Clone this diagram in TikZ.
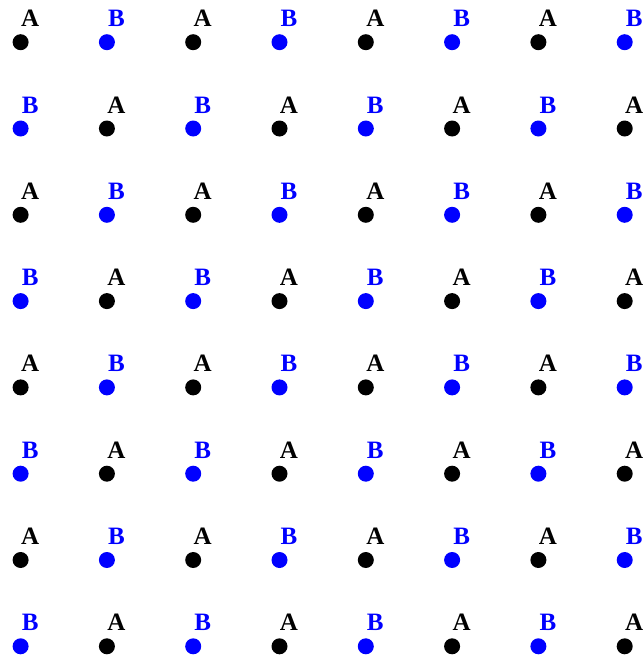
\documentclass[tikz,border=0pt]{standalone}
\usepackage{fontspec}
\setmainfont{Liberation Serif}
\definecolor{pblue}{RGB}{0,0,255}
\tikzset{
  dotA/.style={circle,fill=black,inner sep=0pt,minimum size=16pt},
  dotB/.style={circle,fill=pblue,inner sep=0pt,minimum size=16pt},
  labA/.style={anchor=base,inner sep=0pt,text=black,font=\fontsize{25pt}{25pt}\selectfont\bfseries},
  labB/.style={anchor=base,inner sep=0pt,text=pblue,font=\fontsize{25pt}{25pt}\selectfont\bfseries}
}
\begin{document}
\begin{tikzpicture}[x=1pt,y=-1pt]
\useasboundingbox (0,0) rectangle (644,656);
\foreach \i in {0,...,7}{
  \foreach \j in {0,...,7}{
    \pgfmathsetmacro{\px}{20.6+86.3*\i}
    \pgfmathsetmacro{\py}{42.2+86.3*\j}
    \pgfmathtruncatemacro{\parity}{mod(\i+\j,2)}
    \ifnum\parity=0
      \node[dotA] (d\i\j) at (\px,\py) {};
      \node[labA] (l\i\j) at (\px+9.5,\py-15.5) {A};
    \else
      \node[dotB] (d\i\j) at (\px,\py) {};
      \node[labB] (l\i\j) at (\px+9.5,\py-15.5) {B};
    \fi
  }
}
\end{tikzpicture}
\end{document}
